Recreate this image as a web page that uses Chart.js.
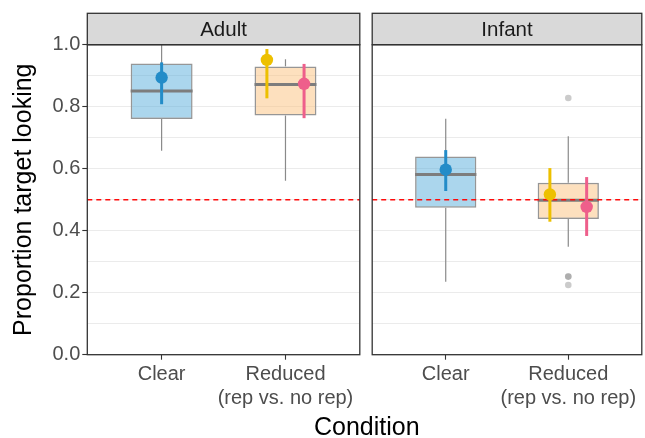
<!DOCTYPE html>
<html>
<head>
<meta charset="utf-8">
<script src="https://cdn.jsdelivr.net/npm/chart.js@4"></script>
<style>
  html, body { margin: 0; padding: 0; background: #fff; }
  body { width: 645px; height: 438px; overflow: hidden; position: relative;
         font-family: "Liberation Sans", Arial, Helvetica, sans-serif; }
  canvas { position: absolute; top: 0; }
  #adult { left: 0; }
  #infant { left: 366px; }
  #xTitle { position: absolute; left: 266.8px; width: 200px; top: 414px; text-align: center;
            font-size: 25px; line-height: 25px; color: #000; }
</style>
</head>
<body>
<canvas id="adult" width="366" height="438"></canvas>
<canvas id="infant" width="282" height="438"></canvas>
<div id="xTitle">Condition</div>
<script>
// Facets and conditions
const groups = ['Adult', 'Infant'];
const conditions = ['Clear', ['Reduced', '(rep vs. no rep)']];
const conditionPos = [1, 2];
const yTitle = 'Proportion target looking';
const chanceLevel = 0.5;

// Boxplot statistics per group (rows) and condition (columns)
const whiskerLow  = [[0.658, 0.561], [0.235, 0.348]];
const quartile1   = [[0.760, 0.772], [0.474, 0.438]];
const medians     = [[0.851, 0.872], [0.581, 0.498]];
const quartile3   = [[0.939, 0.930], [0.639, 0.555]];
const whiskerHigh = [[1.000, 0.953], [0.761, 0.705]];
const outliers    = [[[], []], [[], [0.828, 0.252, 0.252, 0.225]]];

// Means with intervals: Clear, Reduced with repetition, Reduced without repetition
const clearMean = [0.894, 0.597];
const clearLow  = [0.808, 0.528];
const clearHigh = [0.943, 0.660];
const repMean   = [0.951, 0.517];
const repLow    = [0.827, 0.429];
const repHigh   = [0.986, 0.602];
const noRepMean = [0.874, 0.477];
const noRepLow  = [0.763, 0.383];
const noRepHigh = [0.938, 0.573];

// Styling
const FONT = '"Liberation Sans", Arial, Helvetica, sans-serif';
const boxFill = ['rgba(87,173,219,0.5)', 'rgba(251,193,125,0.5)'];
const blue = '#238CC8', yellow = '#EDC000', pink = '#EE5F8B';
const dodge = 0.15, halfBox = 0.25;
const stripHeight = 31.4;

const isMajor = v => Math.round(v * 10) % 2 === 0;

function segment(x0, y0, x1, y1, color, width, order, dash) {
  return {
    type: 'line', data: [{x: x0, y: y0}, {x: x1, y: y1}],
    borderColor: color, borderWidth: width, borderDash: dash || [],
    pointRadius: 0, fill: false, tension: 0, order: order, clip: false
  };
}
function meanPoint(x, y, color) {
  return {
    type: 'scatter', data: [{x: x, y: y}], backgroundColor: color,
    borderWidth: 0, pointRadius: 6.2, order: 0, clip: false
  };
}

// Panel frame and facet strip
const facetPlugin = {
  id: 'facetStrip',
  afterDraw(chart, args, opts) {
    const {ctx, chartArea: a} = chart;
    ctx.save();
    ctx.fillStyle = '#d9d9d9';
    ctx.fillRect(a.left, a.top - stripHeight, a.right - a.left, stripHeight);
    ctx.strokeStyle = '#333';
    ctx.lineWidth = 1.3;
    ctx.strokeRect(a.left, a.top - stripHeight, a.right - a.left, stripHeight);
    ctx.strokeRect(a.left, a.top, a.right - a.left, a.bottom - a.top);
    ctx.fillStyle = '#1a1a1a';
    ctx.font = '20.5px ' + FONT;
    ctx.textAlign = 'center';
    ctx.textBaseline = 'middle';
    ctx.fillText(opts.label, (a.left + a.right) / 2, a.top - stripHeight / 2 + 1);
    ctx.restore();
  }
};

function panelConfig(g, first) {
  const ds = [];
  // boxes
  ds.push({
    type: 'bar',
    data: conditionPos.map((x, c) => ({x: x, y: [quartile1[g][c], quartile3[g][c]]})),
    backgroundColor: boxFill, borderColor: '#969696', borderWidth: 1.5,
    borderSkipped: false, barPercentage: 0.5, categoryPercentage: 1, order: 5
  });
  conditionPos.forEach((x, c) => {
    ds.push(segment(x, quartile3[g][c], x, whiskerHigh[g][c], '#8a8a8a', 1.2, 6));
    ds.push(segment(x, quartile1[g][c], x, whiskerLow[g][c], '#8a8a8a', 1.2, 6));
    ds.push(segment(x - halfBox, medians[g][c], x + halfBox, medians[g][c], '#7d7d7d', 3, 4));
    if (outliers[g][c].length) {
      ds.push({
        type: 'scatter', data: outliers[g][c].map(v => ({x: x, y: v})),
        backgroundColor: 'rgba(140,140,140,0.45)', borderWidth: 0, pointRadius: 3.3, order: 4
      });
    }
  });
  // chance level
  ds.push(segment(0.4, chanceLevel, 2.6, chanceLevel, '#ff0a0a', 1.4, 2, [5, 4]));
  // means with intervals
  const xc = conditionPos[0], xr = conditionPos[1];
  ds.push(segment(xc, clearLow[g], xc, clearHigh[g], blue, 3, 1));
  ds.push(meanPoint(xc, clearMean[g], blue));
  ds.push(segment(xr - dodge, repLow[g], xr - dodge, repHigh[g], yellow, 3, 1));
  ds.push(meanPoint(xr - dodge, repMean[g], yellow));
  ds.push(segment(xr + dodge, noRepLow[g], xr + dodge, noRepHigh[g], pink, 3, 1));
  ds.push(meanPoint(xr + dodge, noRepMean[g], pink));

  return {
    type: 'bar',
    data: {datasets: ds},
    plugins: [facetPlugin],
    options: {
      responsive: false, animation: false, events: [],
      layout: {padding: {top: 44.7, right: first ? 2.7 : 0, left: first ? 0 : 4.3, bottom: 0}},
      plugins: {legend: {display: false}, tooltip: {enabled: false}, facetStrip: {label: groups[g]}},
      scales: {
        x: {
          type: 'linear', min: 0.4, max: 2.6, offset: false,
          afterBuildTicks: s => { s.ticks = conditionPos.map(v => ({value: v})); },
          afterFit: s => { s.height = 83.3; },
          ticks: {
            autoSkip: false, maxRotation: 0, padding: 3, color: '#4d4d4d',
            font: {size: 20, family: FONT, lineHeight: 1.2},
            callback: v => conditions[conditionPos.indexOf(v)]
          },
          grid: {offset: false, drawOnChartArea: false, drawTicks: true, tickLength: 5,
                 tickColor: '#333', tickWidth: 1.1},
          border: {display: false}
        },
        y: {
          min: 0, max: 1,
          afterFit: s => { s.width = first ? 87.3 : 0; },
          ticks: {
            display: first, stepSize: 0.1, autoSkip: false, padding: 2, color: '#4d4d4d',
            font: {size: 20, family: FONT},
            callback: v => isMajor(v) ? v.toFixed(1) : ''
          },
          grid: {
            color: '#ebebeb', lineWidth: 1, drawTicks: first, tickLength: 5, tickWidth: 1.1,
            tickColor: ctx => isMajor(ctx.tick.value) ? '#333' : 'rgba(0,0,0,0)'
          },
          border: {display: false},
          title: {display: first, text: yTitle, color: '#000',
                  font: {size: 25, family: FONT}, padding: {top: 9, bottom: 0}}
        }
      }
    }
  };
}

new Chart(document.getElementById('adult'), panelConfig(0, true));
new Chart(document.getElementById('infant'), panelConfig(1, false));
</script>
</body>
</html>
